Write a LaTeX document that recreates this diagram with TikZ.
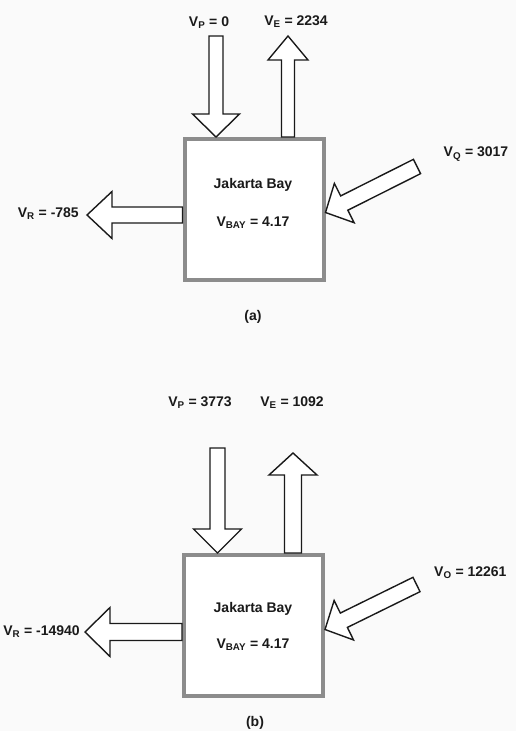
\documentclass[tikz,border=0pt]{standalone}
\usepackage{fontspec}
\setmainfont{Liberation Sans}
\usetikzlibrary{calc}
\definecolor{pagebg}{HTML}{FAFAFA}
\definecolor{boxgray}{HTML}{8C8C8C}
\definecolor{inkdark}{HTML}{1A1A1A}
\tikzset{
  baybox/.style={draw=boxgray, fill=white, line width=4pt,
                 minimum width=139pt, minimum height=141pt},
  blockarr/.style={draw=inkdark, fill=white, line width=1.4pt, line join=miter},
  lbl/.style={font=\fontsize{14}{17}\selectfont\bfseries, text=inkdark, inner sep=0pt},
}
% block arrow: tail, tip, half shaft, half head, head length
\newcommand{\blockarrow}[5]{%
  \coordinate (ba-h) at ($(#2)!#5!(#1)$);
  \draw[blockarr] ($(#1)!#3!90:(#2)$) -- ($(ba-h)!#3!90:(#2)$)
    -- ($(ba-h)!#4!90:(#2)$) -- (#2) -- ($(ba-h)!#4!-90:(#2)$)
    -- ($(ba-h)!#3!-90:(#2)$) -- ($(#1)!#3!-90:(#2)$) -- cycle;
}
\begin{document}
\begin{tikzpicture}[x=1pt, y=-1pt]
  \fill[pagebg] (0,0) rectangle (516,731);
  \useasboundingbox (0,0) rectangle (516,731);

  % (a)
  \node[baybox] (bayA) at (254,209.5) {};
  \node[lbl] (nameA) at (253,185) {Jakarta Bay};
  \node[lbl] (volA) at (253,223) {V\textsubscript{BAY} = 4.17};
  \node[lbl] (capA) at (253,317) {(a)};

  \node[lbl] (vpA) at (209,23) {V\textsubscript{P} = 0};
  \node[lbl] (veA) at (296,22) {V\textsubscript{E} = 2234};
  \node[lbl, anchor=east] (vrA) at (79,214) {V\textsubscript{R} = -785};
  \node[lbl] (vqA) at (476,154) {V\textsubscript{Q} = 3017};

  \coordinate (pA0) at (216,36);
  \coordinate (pA1) at (pA0 |- bayA.north);
  \coordinate (eA1) at (288,36);
  \coordinate (eA0) at (eA1 |- bayA.north);
  \coordinate (rA1) at (87,215);
  \coordinate (rA0) at (rA1 -| bayA.west);
  \coordinate (qA0) at (417,166.5);
  \coordinate (qA1) at ([yshift=-3pt]bayA.east);

  \blockarrow{pA0}{pA1}{7pt}{23.5pt}{23pt}
  \blockarrow{eA0}{eA1}{6.5pt}{20pt}{24pt}
  \blockarrow{rA0}{rA1}{8pt}{23.5pt}{25pt}
  \blockarrow{qA0}{qA1}{8pt}{22pt}{21pt}

  % (b)
  \node[baybox] (bayB) at (253.5,625.5) {};
  \node[lbl] (nameB) at (253,609) {Jakarta Bay};
  \node[lbl] (volB) at (253,645) {V\textsubscript{BAY} = 4.17};
  \node[lbl] (capB) at (255,723) {(b)};

  \node[lbl] (vpB) at (200,403) {V\textsubscript{P} = 3773};
  \node[lbl] (veB) at (292,403) {V\textsubscript{E} = 1092};
  \node[lbl, anchor=east] (vrB) at (80,632) {V\textsubscript{R} = -14940};
  \node[lbl, anchor=west] (voB) at (434,573) {V\textsubscript{O} = 12261};

  \coordinate (pB0) at (217.5,448);
  \coordinate (pB1) at (pB0 |- bayB.north);
  \coordinate (eB1) at (293,453);
  \coordinate (eB0) at (eB1 |- bayB.north);
  \coordinate (rB1) at (85,632);
  \coordinate (rB0) at (rB1 -| bayB.west);
  \coordinate (oB0) at (416.5,584.5);
  \coordinate (oB1) at ([yshift=-4pt]bayB.east);

  \blockarrow{pB0}{pB1}{7.5pt}{24pt}{24pt}
  \blockarrow{eB0}{eB1}{8.5pt}{24pt}{22pt}
  \blockarrow{rB0}{rB1}{8.5pt}{24.5pt}{25pt}
  \blockarrow{oB0}{oB1}{8pt}{22pt}{21pt}
\end{tikzpicture}
\end{document}
